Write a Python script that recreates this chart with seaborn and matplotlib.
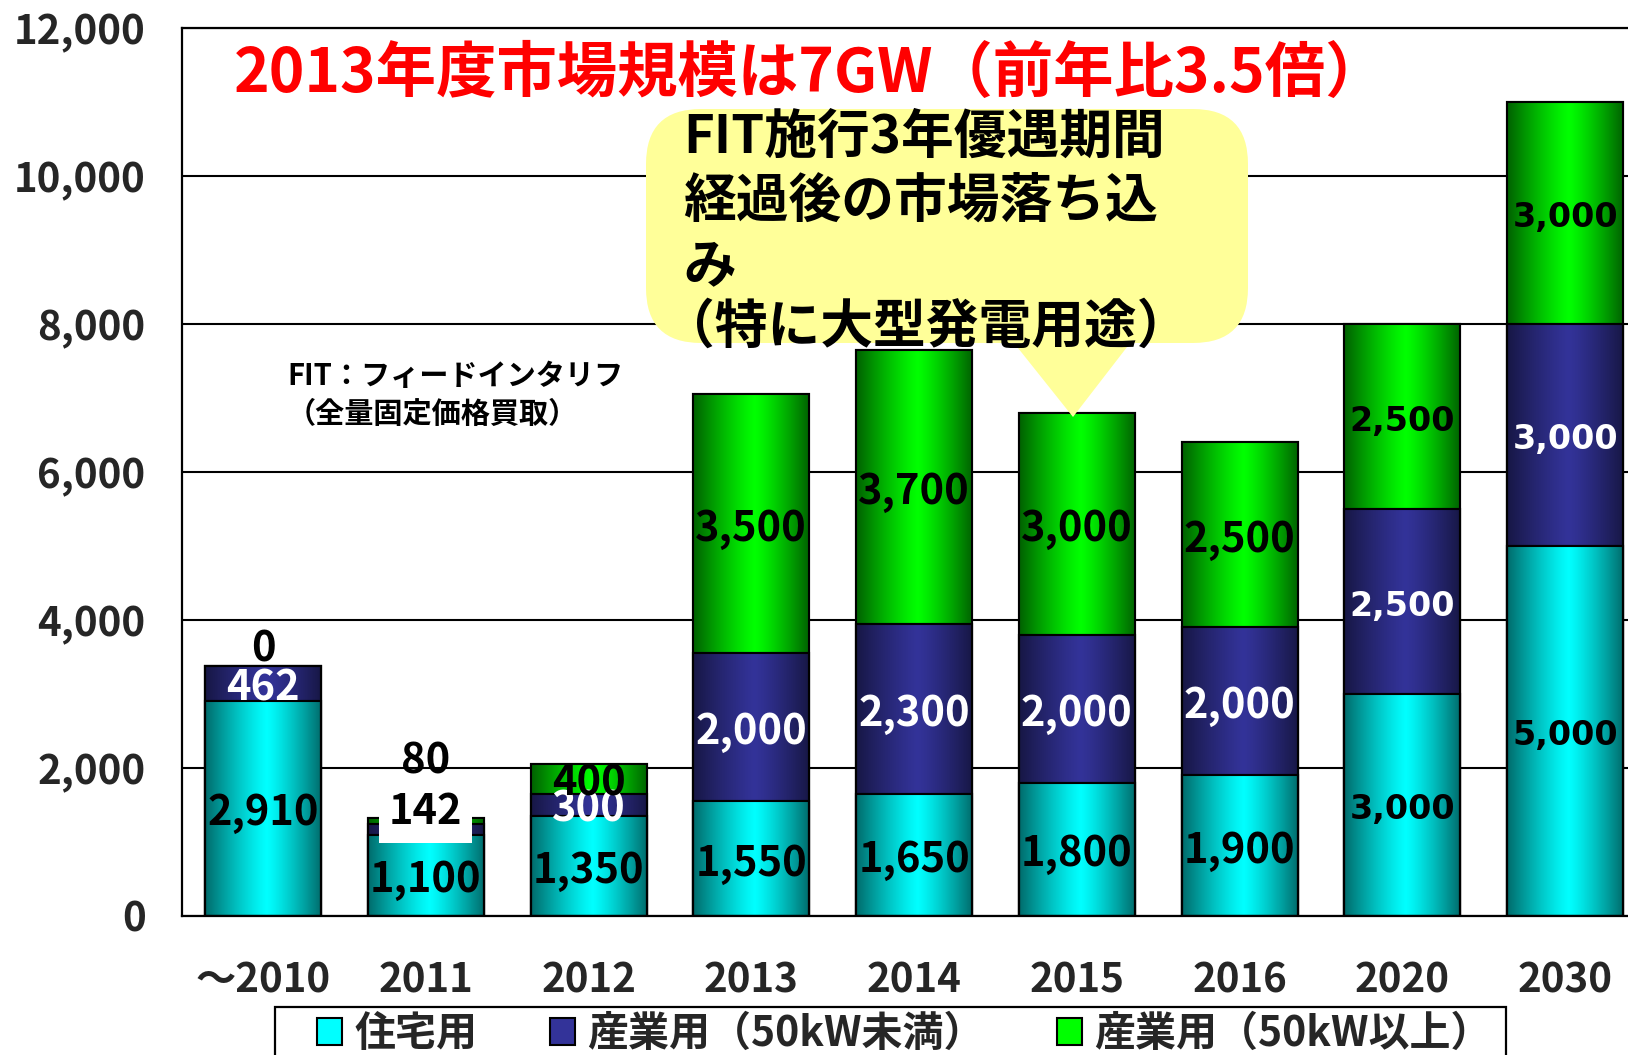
import numpy as np
import pandas as pd
import matplotlib
matplotlib.use("Agg")
import matplotlib.pyplot as plt
import matplotlib.transforms as mtransforms
from matplotlib.patches import Rectangle, FancyBboxPatch, Polygon, Patch
import seaborn as sns

# ---------------- data ----------------
categories = ["～2010", "2011", "2012", "2013", "2014", "2015", "2016", "2020", "2030"]
residential = [2910, 1100, 1350, 1550, 1650, 1800, 1900, 3000, 5000]
industrial_small = [462, 142, 300, 2000, 2300, 2000, 2000, 2500, 3000]
industrial_large = [0, 80, 400, 3500, 3700, 3000, 2500, 2500, 3000]
series_names = ["住宅用", "産業用（50kW未満）", "産業用（50kW以上）"]
y_ticks = [0, 2000, 4000, 6000, 8000, 10000, 12000]
y_tick_labels = ["0", "2,000", "4,000", "6,000", "8,000", "10,000", "12,000"]
title_text = "2013年度市場規模は7GW（前年比3.5倍）"
callout_lines = ["FIT施行3年優遇期間", "経過後の市場落ち込", "み", "（特に大型発電用途）"]
note_lines = ["FIT：フィードインタリフ", "（全量固定価格買取）"]

# ---------------- style ----------------
sns.set_style("white")
FONT = ["Noto Sans CJK JP", "DejaVu Sans"]
plt.rcParams["font.family"] = FONT

W, H = 1628, 1055
fig = plt.figure(figsize=(W / 100, H / 100), dpi=100)
ax = fig.add_axes([181.7 / W, 1 - 916 / H, 9 * 162.75 / W, (916 - 28) / H])

df = pd.DataFrame({
    "cat": categories,
    "s0": residential,
    "s1": industrial_small,
    "s2": industrial_large,
})
df["top0"] = df["s0"]
df["top1"] = df["s0"] + df["s1"]
df["top2"] = df["s0"] + df["s1"] + df["s2"]

bright = {0: np.array([0.0, 1.0, 1.0]), 1: np.array([0.2, 0.2, 0.6]), 2: np.array([0.0, 1.0, 0.0])}
dark = {0: np.array([0.0, 0.42, 0.42]), 1: np.array([0.09, 0.09, 0.27]), 2: np.array([0.0, 0.38, 0.0])}


def gradient(j, n=256):
    t = np.linspace(0, 1, n)
    peak = 0.53
    d = np.where(t < peak, (peak - t) / peak, (t - peak) / (1 - peak))
    g = 1 - d ** 1.2
    col = dark[j][None, :] + (bright[j] - dark[j])[None, :] * g[:, None]
    return col[None, :, :]


all_patches = []
for k, j in enumerate([2, 1, 0]):
    sns.barplot(data=df, x="cat", y=f"top{j}", order=categories, color=bright[j],
                saturation=1, width=0.713, edgecolor="black", linewidth=1.5,
                errorbar=None, ax=ax)
    cont = ax.containers[-1]
    img = gradient(j)
    for p in cont.patches:
        p.set_zorder(2 + k * 0.2)
        x0, y0 = p.get_x(), p.get_y()
        w, h = p.get_width(), p.get_height()
        all_patches.append(p)
        if h <= 0:
            continue
        im = ax.imshow(img, extent=[x0, x0 + w, y0, y0 + h], aspect="auto",
                       interpolation="bilinear", origin="lower")
        im.set_zorder(2.1 + k * 0.2)

for p in all_patches:
    ax.add_patch(Rectangle(p.get_xy(), p.get_width(), p.get_height(), fill=False,
                           ec="black", lw=1.5, zorder=2.8))

ax.set_xlim(-0.5, 8.5)
ax.set_ylim(0, 12000)
ax.set_aspect("auto")
ax.set_xlabel("")
ax.set_ylabel("")

# axes styling
for s in ["left", "bottom", "top"]:
    ax.spines[s].set_color("black")
    ax.spines[s].set_linewidth(1.6)
ax.spines["right"].set_visible(False)
ax.set_axisbelow(True)
ax.yaxis.grid(True, color="black", lw=1.5)
ax.xaxis.grid(False)

ax.set_yticks(y_ticks, y_tick_labels, fontsize=29, fontweight="bold")
ax.set_xticks(range(len(categories)), categories, fontsize=29, fontweight="bold")
ax.set_xticks(np.arange(0.5, len(categories) - 1, 1), minor=True)
ax.tick_params(axis="y", length=0, pad=26)
ax.tick_params(axis="x", which="major", length=0, pad=32)
ax.tick_params(axis="x", which="minor", direction="in", length=11, width=1.5, color="black")

# ---------------- value labels ----------------
label_color = {0: "black", 1: "white", 2: "black"}
wide_font_cats = ["2020", "2030"]
# special placements: offset (points) above the top of the whole stack
special = {("～2010", 2): 12, ("2011", 2): 41, ("2011", 1): 4.5}

for i, cat in enumerate(categories):
    vals = [df.loc[i, "s0"], df.loc[i, "s1"], df.loc[i, "s2"]]
    total = sum(vals)
    bottom = 0
    for j, v in enumerate(vals):
        txt = f"{v:,}"
        if cat in wide_font_cats:
            fkw = dict(fontsize=24, fontweight="bold", family=["DejaVu Sans"])
        else:
            fkw = dict(fontsize=30, fontweight="bold", family=FONT)
        if (cat, j) in special:
            kw = {}
            if (cat, j) == ("2011", 1):
                kw["bbox"] = dict(facecolor="white", edgecolor="none", pad=7)
            ax.annotate(txt, xy=(i, total), xytext=(0, special[(cat, j)]),
                        textcoords="offset points", ha="center", va="center",
                        color="black", zorder=5, **fkw, **kw)
        else:
            ax.annotate(txt, xy=(i, bottom + v / 2), xytext=(0, -3.5),
                        textcoords="offset points", ha="center", va="center",
                        color=label_color[j], zorder=5, **fkw)
        bottom += v

# ---------------- annotations (figure pixel coordinates) ----------------
def fx(x):
    return x / W


def fy(y):
    return 1 - y / H


fig.text(fx(810), fy(74), title_text, color="#FF0000", fontsize=43.5, fontweight="bold",
         ha="center", va="center", zorder=6)

ident = mtransforms.IdentityTransform()
box = FancyBboxPatch((646, H - 343), 602, 234, boxstyle="round,pad=0,rounding_size=55",
                     transform=ident, facecolor="#FFFF99", edgecolor="none", zorder=4)
fig.add_artist(box)
tri = Polygon([(1010, H - 338), (1134, H - 338), (1073, H - 417)], closed=True,
              transform=ident, facecolor="#FFFF99", edgecolor="none", zorder=4)
fig.add_artist(tri)
for yy, xx, line in zip([137, 202, 267, 327], [683, 683, 683, 662], callout_lines):
    fig.text(fx(xx), fy(yy), line, fontsize=38, fontweight="bold", ha="left",
             va="center", color="black", zorder=6)

for yy, line in zip([376, 414], note_lines):
    fig.text(fx(287), fy(yy), line, fontsize=21, fontweight="bold", ha="left",
             va="center", color="black", zorder=6)

# ---------------- legend ----------------
handles = [Patch(facecolor=bright[j], edgecolor="black", lw=1.5) for j in range(3)]
fig.legend(handles, series_names, loc="upper left",
           bbox_to_anchor=(fx(317), fy(1013) - 0.1, (1492 - 317) / W, 0.1),
           mode="expand", ncol=3, frameon=False, borderpad=0, borderaxespad=0,
           handlelength=0.62, handleheight=0.62, handletextpad=0.3,
           prop=dict(family=FONT, weight="bold", size=29.5))
fig.add_artist(Rectangle((fx(275), fy(1080)), (1506 - 275) / W, (1080 - 1007) / H,
                         transform=fig.transFigure, fill=False, ec="black", lw=1.6))

fig.savefig("out.png", dpi=100)
